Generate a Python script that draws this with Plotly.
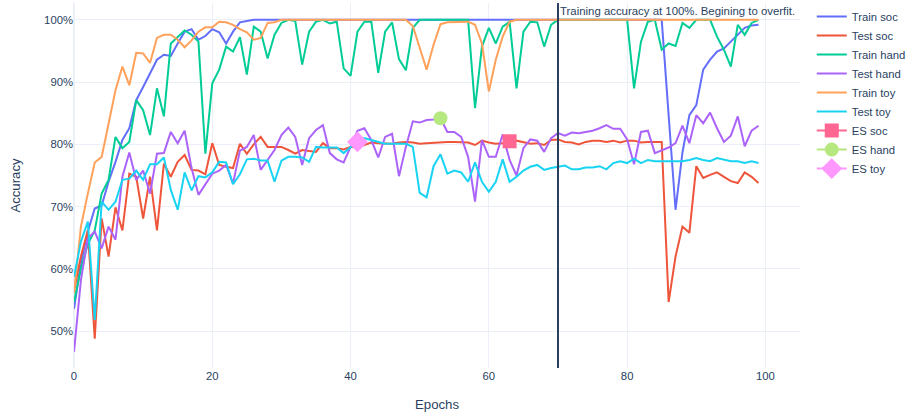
import plotly.graph_objects as go

epochs = list(range(100))

train_soc = [53.6, 61.0, 66.0, 69.7, 70.2, 74.0, 77.2, 80.7, 82.6, 87.1,
             89.2, 91.5, 93.6, 94.4, 94.2, 96.2, 98.1, 98.5, 96.8, 97.4,
             98.5, 98.0, 96.2, 98.1, 99.6, 99.8, 100, 100, 100, 100,
             100, 100, 100, 100, 100, 100, 100, 100, 100, 100,
             100, 100, 100, 100, 100, 100, 100, 100, 100, 100,
             100, 100, 100, 100, 100, 100, 100, 100, 100, 100,
             100, 100, 100, 100, 100, 100, 100, 100, 100, 100,
             100, 100, 100, 100, 100, 100, 100, 100, 100, 100,
             100, 100, 100, 100, 100, 100, 84.7, 69.5, 78.7, 84.7,
             86.3, 92.0, 93.6, 94.9, 95.4, 96.5, 97.6, 98.7, 99.1, 99.2]

test_soc = [56.5, 62.0, 66.2, 48.8, 68.1, 62.0, 69.9, 66.2, 75.3, 74.8,
            68.1, 74.8, 66.2, 76.9, 74.8, 77.2, 78.3, 75.9, 75.8, 75.2,
            80.2, 76.7, 76.4, 76.2, 80.1, 78.5, 80.0, 81.2, 79.6, 79.6,
            79.6, 79.1, 78.5, 79.1, 79.0, 78.8, 80.2, 79.4, 79.4, 79.2,
            79.6, 79.6, 79.9, 80.3, 80.2, 80.2, 80.1, 80.3, 80.4, 80.3,
            80.1, 80.2, 80.3, 80.4, 80.4, 80.4, 80.4, 80.3, 79.9, 80.6,
            80.3, 80.1, 80.2, 80.3, 80.6, 80.3, 80.1, 80.2, 79.9, 80.7,
            80.8, 80.4, 80.3, 80.0, 80.4, 80.6, 80.6, 80.4, 80.6, 80.3,
            80.6, 80.6, 80.3, 80.4, 80.4, 80.4, 54.7, 62.0, 66.8, 65.8,
            76.5, 74.6, 75.1, 75.5, 74.8, 74.1, 73.8, 75.5, 74.8, 73.8]

train_hand = [54.7, 60.0, 64.0, 66.2, 72.1, 74.3, 81.2, 79.4, 80.4, 87.1,
              85.5, 81.5, 89.0, 84.5, 96.2, 97.3, 98.3, 97.6, 96.5, 78.5,
              89.8, 92.0, 95.7, 94.9, 97.2, 91.2, 98.9, 98.1, 93.8, 97.6,
              99.5, 100, 99.8, 92.8, 98.1, 99.7, 100, 99.4, 99.7, 92.2,
              91.0, 98.1, 99.7, 99.7, 91.5, 98.1, 99.6, 93.7, 91.9, 98.7,
              100, 100, 100, 100, 100, 100, 100, 100, 85.8, 95.7,
              98.7, 96.2, 98.9, 99.7, 89.0, 98.1, 99.7, 99.6, 95.7, 99.2,
              100, 100, 100, 100, 100, 100, 100, 100, 100, 100,
              100, 89.0, 96.5, 99.7, 100, 95.2, 96.2, 95.8, 99.5, 98.7,
              100, 100, 100, 97.3, 95.2, 92.5, 99.2, 97.6, 99.5, 100]

test_hand = [46.7, 58.2, 64.9, 66.0, 63.3, 66.8, 64.7, 74.8, 78.7, 74.3,
             75.8, 72.1, 78.5, 78.6, 82.0, 80.2, 82.2, 76.2, 71.9, 73.5,
             75.3, 75.8, 76.7, 73.7, 79.0, 79.6, 81.5, 75.9, 77.5, 79.1,
             81.5, 82.7, 81.2, 76.7, 81.0, 82.3, 83.1, 78.6, 77.6, 77.1,
             79.6, 82.2, 82.6, 80.7, 77.9, 81.2, 81.7, 74.9, 79.6, 83.7,
             83.5, 83.9, 84.0, 84.2, 82.0, 82.0, 81.2, 78.0, 70.8, 80.7,
             78.0, 78.0, 81.6, 77.5, 75.0, 79.4, 80.8, 80.6, 78.8, 81.0,
             81.8, 81.4, 81.9, 81.8, 82.0, 82.2, 82.6, 83.1, 82.5, 82.5,
             80.8, 76.8, 82.0, 82.2, 78.6, 79.1, 79.5, 80.2, 83.0, 80.2,
             84.7, 83.4, 85.1, 82.6, 80.4, 81.4, 84.5, 79.7, 82.2, 83.0]

train_toy = [56.1, 66.8, 72.1, 77.1, 78.0, 83.4, 88.7, 92.5, 89.5, 94.7,
             94.6, 93.1, 97.1, 97.6, 97.6, 96.8, 95.6, 96.7, 98.1, 98.8,
             98.8, 99.7, 99.6, 99.2, 98.5, 98.0, 96.8, 97.1, 99.5, 99.6,
             100, 100, 100, 100, 100, 100, 100, 100, 100, 100,
             100, 100, 100, 100, 100, 100, 100, 100, 100, 99.0,
             95.5, 92.0, 96.0, 99.3, 99.6, 99.6, 99.7, 99.7, 99.2, 96.2,
             88.5, 93.6, 97.3, 99.7, 100, 100, 100, 100, 100, 100,
             100, 100, 100, 100, 100, 100, 100, 100, 100, 100,
             100, 100, 100, 100, 100, 100, 100, 100, 100, 100,
             100, 100, 100, 100, 100, 100, 100, 100, 100, 100]

test_toy = [58.7, 64.4, 67.6, 51.8, 70.8, 69.5, 70.8, 74.3, 74.5, 75.8,
            74.3, 76.8, 76.8, 77.9, 72.7, 69.5, 75.5, 72.6, 74.9, 74.7,
            75.5, 77.2, 77.1, 73.6, 75.2, 77.6, 77.7, 77.4, 77.4, 74.0,
            77.4, 78.0, 78.0, 77.9, 77.2, 79.6, 79.5, 79.5, 79.5, 78.6,
            79.6, 80.5, 81.0, 80.7, 80.3, 80.1, 80.1, 80.1, 80.1, 79.6,
            72.2, 71.5, 76.5, 78.4, 75.3, 75.8, 75.5, 74.0, 77.1, 74.0,
            72.4, 74.0, 77.6, 74.0, 74.8, 75.8, 76.4, 76.7, 75.9, 76.2,
            76.4, 76.6, 76.0, 76.0, 76.3, 76.3, 76.5, 76.0, 77.0, 77.3,
            77.0, 77.7, 77.0, 77.5, 77.3, 77.3, 77.3, 77.4, 77.3, 77.5,
            77.8, 77.5, 77.3, 77.8, 77.5, 77.3, 77.3, 77.0, 77.3, 77.0]

es_soc_x, es_soc_y = [63], [80.5]
es_hand_x, es_hand_y = [53], [84.2]
es_toy_x, es_toy_y = [41], [80.4]

fig = go.Figure()
for name, ys in [("Train soc", train_soc), ("Test soc", test_soc),
                 ("Train hand", train_hand), ("Test hand", test_hand),
                 ("Train toy", train_toy), ("Test toy", test_toy)]:
    fig.add_trace(go.Scatter(x=epochs, y=ys, name=name, mode="lines"))

fig.add_trace(go.Scatter(x=es_soc_x, y=es_soc_y, name="ES soc", mode="lines+markers",
                         marker=dict(symbol="square", size=14)))
fig.add_trace(go.Scatter(x=es_hand_x, y=es_hand_y, name="ES hand", mode="lines+markers",
                         marker=dict(symbol="circle", size=14)))
fig.add_trace(go.Scatter(x=es_toy_x, y=es_toy_y, name="ES toy", mode="lines+markers",
                         marker=dict(symbol="diamond", size=16)))

fig.add_vline(x=70, annotation_text="Training accuracy at 100%. Begining to overfit.",
              annotation_position="top right", annotation_font_size=11.4)

fig.update_layout(
    template="plotly_white",
    width=907, height=416,
    font=dict(family="Liberation Sans, Arial, sans-serif", size=11.3),
    margin=dict(l=74, r=107, t=3, b=48),
    xaxis=dict(title=dict(text="Epochs", font=dict(size=13.2), standoff=18),
               range=[0, 105]),
    yaxis=dict(title=dict(text="Accuracy", font=dict(size=13.2), standoff=20),
               ticksuffix="%", range=[44.1, 102.7]),
    legend=dict(xref="container", yref="container", x=0.895, y=0.995,
                xanchor="left", yanchor="top", tracegroupgap=0),
)

fig.write_html("out.html", config={"displayModeBar": False},
               post_script="document.body.style.margin='0px';")
